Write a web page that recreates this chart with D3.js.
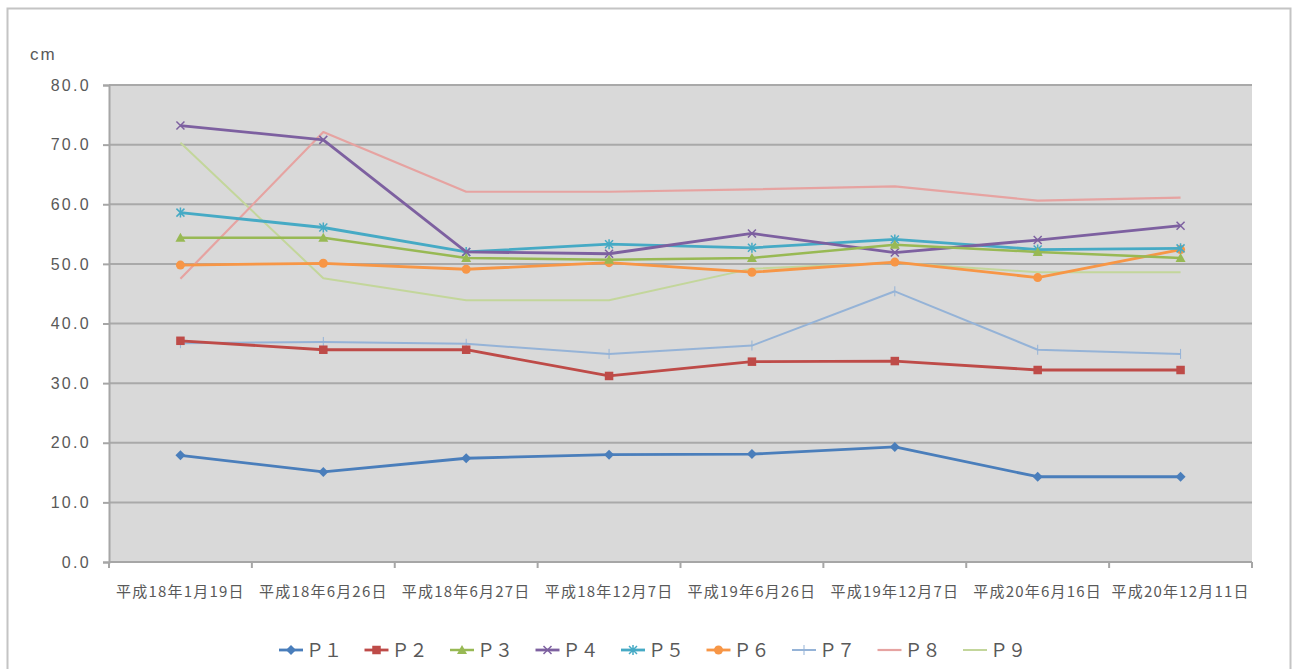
<!DOCTYPE html>
<html>
<head>
<meta charset="utf-8">
<script src="https://cdn.jsdelivr.net/npm/d3@7/dist/d3.min.js"></script>
<style>
  html, body { margin: 0; padding: 0; background: #ffffff; }
  svg { display: block; }
  text { font-family: "Noto Sans CJK JP", "Noto Sans", sans-serif; fill: #595959; }
</style>
</head>
<body>
<svg id="chart" width="1293" height="669"></svg>
<script>
// Survey dates (category axis)
const dates = [
  "平成18年1月19日", "平成18年6月26日", "平成18年6月27日", "平成18年12月7日",
  "平成19年6月26日", "平成19年12月7日", "平成20年6月16日", "平成20年12月11日"
];

// Measured values (cm) per survey point
const p1 = [17.9, 15.1, 17.4, 18.0, 18.1, 19.3, 14.3, 14.3];
const p2 = [37.1, 35.6, 35.6, 31.2, 33.6, 33.7, 32.2, 32.2];
const p3 = [54.4, 54.4, 51.0, 50.7, 51.0, 53.2, 52.0, 51.0];
const p4 = [73.2, 70.8, 52.0, 51.7, 55.1, 51.9, 54.0, 56.4];
const p5 = [58.6, 56.1, 52.0, 53.3, 52.7, 54.1, 52.4, 52.6];
const p6 = [49.8, 50.1, 49.1, 50.2, 48.6, 50.3, 47.7, 52.4];
const p7 = [36.7, 36.9, 36.6, 34.9, 36.3, 45.4, 35.6, 34.9];
const p8 = [47.5, 72.1, 62.1, 62.1, 62.5, 63.0, 60.6, 61.1];
const p9 = [70.3, 47.6, 43.9, 43.9, 49.2, 50.2, 48.6, 48.6];

const seriesNames = ["Ｐ１", "Ｐ２", "Ｐ３", "Ｐ４", "Ｐ５", "Ｐ６", "Ｐ７", "Ｐ８", "Ｐ９"];
const yTicks = [0, 10, 20, 30, 40, 50, 60, 70, 80];

const series = [
  { name: seriesNames[0], values: p1, color: "#4a7ebb", width: 2.8, marker: "diamond" },
  { name: seriesNames[1], values: p2, color: "#be4b48", width: 2.8, marker: "square" },
  { name: seriesNames[2], values: p3, color: "#98b954", width: 2.5, marker: "triangle" },
  { name: seriesNames[3], values: p4, color: "#7d60a0", width: 2.8, marker: "x" },
  { name: seriesNames[4], values: p5, color: "#46aac5", width: 2.8, marker: "star" },
  { name: seriesNames[5], values: p6, color: "#f79646", width: 2.8, marker: "circle" },
  { name: seriesNames[6], values: p7, color: "#95b3d7", width: 2, marker: "dash" },
  { name: seriesNames[7], values: p8, color: "#e6a3a1", width: 2.2, marker: "none" },
  { name: seriesNames[8], values: p9, color: "#c3d69b", width: 2, marker: "none" }
];

const svg = d3.select("#chart");

// Outer chart frame
svg.append("rect")
  .attr("x", 7.5).attr("y", 8.5).attr("width", 1283).attr("height", 670)
  .attr("fill", "#ffffff").attr("stroke", "#c4c4c4").attr("stroke-width", 2);

const plot = { left: 109, right: 1252, top: 85, bottom: 562 };

const x = d3.scaleBand().domain(dates).range([plot.left, plot.right]);
const y = d3.scaleLinear().domain([0, 80]).range([plot.bottom, plot.top]);

// Plot area background
svg.append("rect")
  .attr("x", plot.left).attr("y", plot.top)
  .attr("width", plot.right - plot.left).attr("height", plot.bottom - plot.top)
  .attr("fill", "#d9d9d9");

// Horizontal gridlines
svg.append("g")
  .selectAll("line")
  .data(yTicks.filter(d => d > 0))
  .join("line")
  .attr("x1", plot.left).attr("x2", plot.right)
  .attr("y1", d => y(d)).attr("y2", d => y(d))
  .attr("stroke", "#a9a9a9").attr("stroke-width", 2);

// Y axis
const yAxis = svg.append("g")
  .attr("transform", `translate(${plot.left},0)`)
  .call(d3.axisLeft(y).tickValues(yTicks).tickFormat(d3.format(".1f")).tickSize(6).tickPadding(14));
yAxis.select(".domain").attr("stroke", "#a6a6a6").attr("stroke-width", 2);
yAxis.selectAll(".tick line").attr("stroke", "#a6a6a6").attr("stroke-width", 2);
yAxis.selectAll(".tick text")
  .attr("font-size", 16).attr("fill", "#595959")
  .attr("letter-spacing", "2.3px")
  .attr("dx", "2px")
  .style("font-family", "'Liberation Sans', Arial, sans-serif");

// X axis with tick marks at category boundaries
const xAxisG = svg.append("g").attr("transform", `translate(0,${plot.bottom})`);
xAxisG.append("line")
  .attr("x1", plot.left).attr("x2", plot.right)
  .attr("y1", 0).attr("y2", 0)
  .attr("stroke", "#a6a6a6").attr("stroke-width", 2);
const boundaries = dates.map(d => x(d)).concat([x(dates[dates.length - 1]) + x.bandwidth()]);
xAxisG.selectAll("line.tk")
  .data(boundaries)
  .join("line")
  .attr("class", "tk")
  .attr("x1", d => d).attr("x2", d => d)
  .attr("y1", 0).attr("y2", 6)
  .attr("stroke", "#a6a6a6").attr("stroke-width", 2);
xAxisG.selectAll("text")
  .data(dates)
  .join("text")
  .attr("x", d => x(d) + x.bandwidth() / 2)
  .attr("y", 35)
  .attr("text-anchor", "middle")
  .attr("font-size", 15)
  .attr("letter-spacing", "1.2px")
  .text(d => d);

// Unit label
svg.append("text")
  .attr("x", 30).attr("y", 60)
  .attr("font-size", 17)
  .attr("letter-spacing", "2px")
  .style("font-family", "'Liberation Sans', Arial, sans-serif")
  .text("cm");

// Marker drawing
function drawMarker(g, type, color, size) {
  const s = size;
  switch (type) {
    case "diamond":
      g.append("path").attr("d", `M0,${-s}L${s},0L0,${s}L${-s},0Z`).attr("fill", color);
      break;
    case "square":
      g.append("rect").attr("x", -s * 0.85).attr("y", -s * 0.85)
        .attr("width", s * 1.7).attr("height", s * 1.7).attr("fill", color);
      break;
    case "triangle":
      g.append("path").attr("d", `M0,${-s}L${s},${s * 0.8}L${-s},${s * 0.8}Z`).attr("fill", color);
      break;
    case "x":
      g.append("path").attr("d", `M${-s * 0.8},${-s * 0.8}L${s * 0.8},${s * 0.8}M${-s * 0.8},${s * 0.8}L${s * 0.8},${-s * 0.8}`)
        .attr("stroke", color).attr("stroke-width", 1.5);
      break;
    case "star":
      g.append("path").attr("d", `M${-s * 0.8},${-s * 0.8}L${s * 0.8},${s * 0.8}M${-s * 0.8},${s * 0.8}L${s * 0.8},${-s * 0.8}M0,${-s}L0,${s}`)
        .attr("stroke", color).attr("stroke-width", 1.5);
      break;
    case "circle":
      g.append("circle").attr("r", s * 0.9).attr("fill", color);
      break;
    case "dash":
      g.append("path").attr("d", `M0,${-s}L0,${s}`).attr("stroke", color).attr("stroke-width", 1);
      break;
    default:
      break;
  }
}

const line = d3.line()
  .x((d, i) => x(dates[i]) + x.bandwidth() / 2)
  .y(d => y(d));

// Draw the series so that the earlier ones sit on top
const linesG = svg.append("g");
[...series].reverse().forEach(s => {
  const g = linesG.append("g");
  g.append("path")
    .datum(s.values)
    .attr("d", line)
    .attr("fill", "none")
    .attr("stroke", s.color)
    .attr("stroke-width", s.width)
    .attr("stroke-linejoin", "round");
  s.values.forEach((v, i) => {
    const m = g.append("g")
      .attr("transform", `translate(${x(dates[i]) + x.bandwidth() / 2},${y(v)})`);
    drawMarker(m, s.marker, s.color, 5);
  });
});

// Legend
const legend = svg.append("g").attr("transform", "translate(279,650)");
const itemW = 85.5;
series.forEach((s, i) => {
  const g = legend.append("g").attr("transform", `translate(${i * itemW},0)`);
  g.append("line")
    .attr("x1", 0).attr("x2", 24).attr("y1", 0).attr("y2", 0)
    .attr("stroke", s.color).attr("stroke-width", s.width);
  const m = g.append("g").attr("transform", "translate(12,0)");
  drawMarker(m, s.marker, s.color, 5);
  g.append("text")
    .attr("x", 27).attr("y", 6.5)
    .attr("font-size", 18)
    .attr("fill", "#7f7f7f")
    .text(s.name);
});
</script>
</body>
</html>
